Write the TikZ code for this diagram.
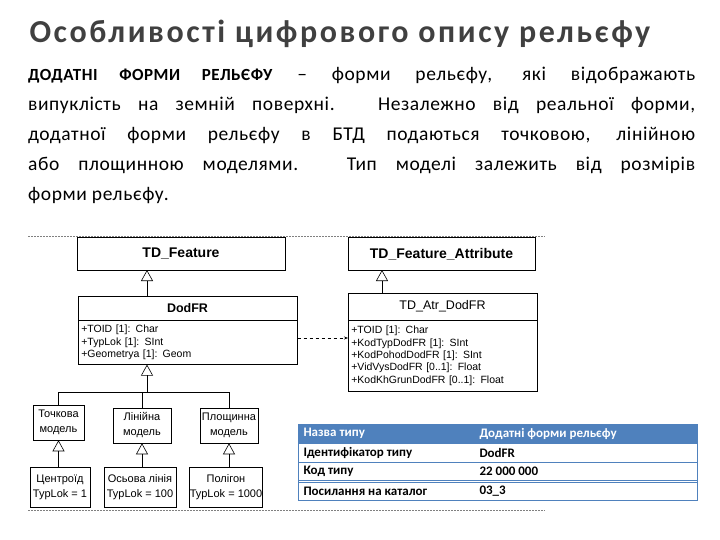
\documentclass[tikz,border=0pt]{standalone}
\usepackage{fontspec}
\setmainfont{Carlito}
\newfontfamily\titlef[LetterSpace=8]{Carlito}
\newfontfamily\bodyf[LetterSpace=3]{Carlito}
\newfontfamily\arialf{Liberation Sans}
\usetikzlibrary{arrows.meta}
\definecolor{hdr}{HTML}{4F81BD}
\begin{document}
\begin{tikzpicture}[x=1pt,y=-1pt,
  cls/.style={draw,line width=0.6pt,inner sep=0pt,font=\arialf\bfseries\fontsize{14}{16}\selectfont},
  attr/.style={draw,line width=0.6pt,anchor=north west,align=left,inner sep=2pt,font=\arialf\fontsize{10.5}{12.4}\selectfont},
  small/.style={draw,line width=0.6pt,inner sep=0pt,align=center,font=\arialf\fontsize{11}{15}\selectfont},
  inh/.style={-{Triangle[open,length=11pt,width=12pt]},line width=0.6pt},
  row/.style={anchor=west,font=\bfseries\fontsize{13}{14}\selectfont}]
\useasboundingbox (0,0) rectangle (720,540);
\node[anchor=west,font=\titlef\bfseries\fontsize{32}{34}\selectfont,text=black!75] (title) at (26,34) {Особливості цифрового опису рельєфу};
\node[anchor=north west,text width=667pt,align=justify,inner sep=0pt,font=\bodyf\fontsize{19.5}{30}\selectfont] (body) at (28,67)
 {{\fontsize{17}{30}\selectfont\bfseries ДОДАТНІ ФОРМИ РЕЛЬЄФУ} – форми рельєфу, які відображають\linebreak випуклість на земній поверхні. Незалежно від реальної форми,\linebreak додатної форми рельєфу в БТД подаються точковою, лінійною\linebreak або площинною моделями. Тип моделі залежить від розмірів\linebreak форми рельєфу.};
\coordinate (d1a) at (28,236); \coordinate (d1b) at (545,236);
\coordinate (d2a) at (28,510); \coordinate (d2b) at (545,510);
\draw[gray,dashed,dash pattern=on 2pt off 1pt] (d1a)--(d1b) (d2a)--(d2b);
% left hierarchy
\node[cls,minimum width=208pt,minimum height=33pt] (tdf) at (181,254) {TD\_Feature};
\node[cls,font=\arialf\fontsize{12.5}{14}\selectfont\bfseries,minimum width=219pt,minimum height=24pt] (dod) at (187.5,308) {DodFR};
\node[attr,minimum width=219pt,minimum height=44pt,text width=213pt] (doda) at (78,320) {+TOID [1]: Char\\+TypLok [1]: SInt\\+Geometrya [1]: Geom};
\draw[inh] (dod.north -| 147,0) -- (147,270);
% right hierarchy
\node[cls,minimum width=187pt,minimum height=33pt] (tfa) at (441.5,254) {TD\_Feature\_Attribute};
\node[cls,font=\arialf\fontsize{12.5}{14}\selectfont,minimum width=189pt,minimum height=27pt] (atr) at (442.5,306.5) {TD\_Atr\_DodFR};
\node[attr,minimum width=189pt,minimum height=71pt,text width=183pt] (atra) at (348,320) {+TOID [1]: Char\\+KodTypDodFR [1]: SInt\\+KodPohodDodFR [1]: SInt\\+VidVysDodFR [0..1]: Float\\+KodKhGrunDodFR [0..1]: Float};
\draw[inh] (atr.north -| 382,0) -- (382,270);
\draw[dashed,-{Stealth[length=4pt]},line width=0.5pt] (doda.east |- 0,338) -- (atra.west |- 0,338);
% models
\node[small,minimum width=51pt,minimum height=35pt] (m1) at (58.5,422.5) {Точкова\\модель};
\node[small,minimum width=58pt,minimum height=35pt] (m2) at (142,425.5) {Лінійна\\модель};
\node[small,minimum width=58pt,minimum height=35pt] (m3) at (229,425.5) {Площинна\\модель};
\coordinate (j) at (147,392);
\draw[line width=0.6pt] (m1.north) |- (m3.north |- j) -- (m3.north);
\draw[line width=0.6pt] (m2.north) -- (m2.north |- j);
\draw[inh] (j) -- (doda.south -| j);
\node[small,minimum width=60pt,minimum height=40pt] (b1) at (60,487) {Центроїд\\TypLok = 1};
\node[small,minimum width=72pt,minimum height=40pt] (b2) at (140,487) {Осьова лінія\\TypLok = 100};
\node[small,minimum width=62pt,minimum height=40pt] (b3) at (226,487) {Полігон\\TypLok = 1000};
\draw[inh] (b1.north -| m1) -- (m1.south);
\draw[inh] (b2.north -| m2) -- (m2.south);
\draw[inh] (b3.north -| m3) -- (m3.south);
% table
\fill[hdr] (298,424) rectangle (697,443);
\draw[hdr,line width=0.5pt] (298,424) rectangle (697,500) (298,462)--(697,462) (298,443)--(697,443);
\draw[hdr,line width=0.8pt] (298,480)--(697,480) (298,482)--(697,482);
\node[row,text=white] (c11) at (300,433.5) {Назва типу};
\node[row,text=white] (c12) at (476,433.5) {Додатні форми рельєфу};
\node[row] (c21) at (300,452.5) {Ідентифікатор типу};
\node[row] (c22) at (476,452.5) {DodFR};
\node[row] (c31) at (300,471) {Код типу};
\node[row] (c32) at (476,471) {22 000 000};
\node[row] (c41) at (300,491) {Посилання на каталог};
\node[row] (c42) at (476,491) {03\_3};
\end{tikzpicture}
\end{document}
